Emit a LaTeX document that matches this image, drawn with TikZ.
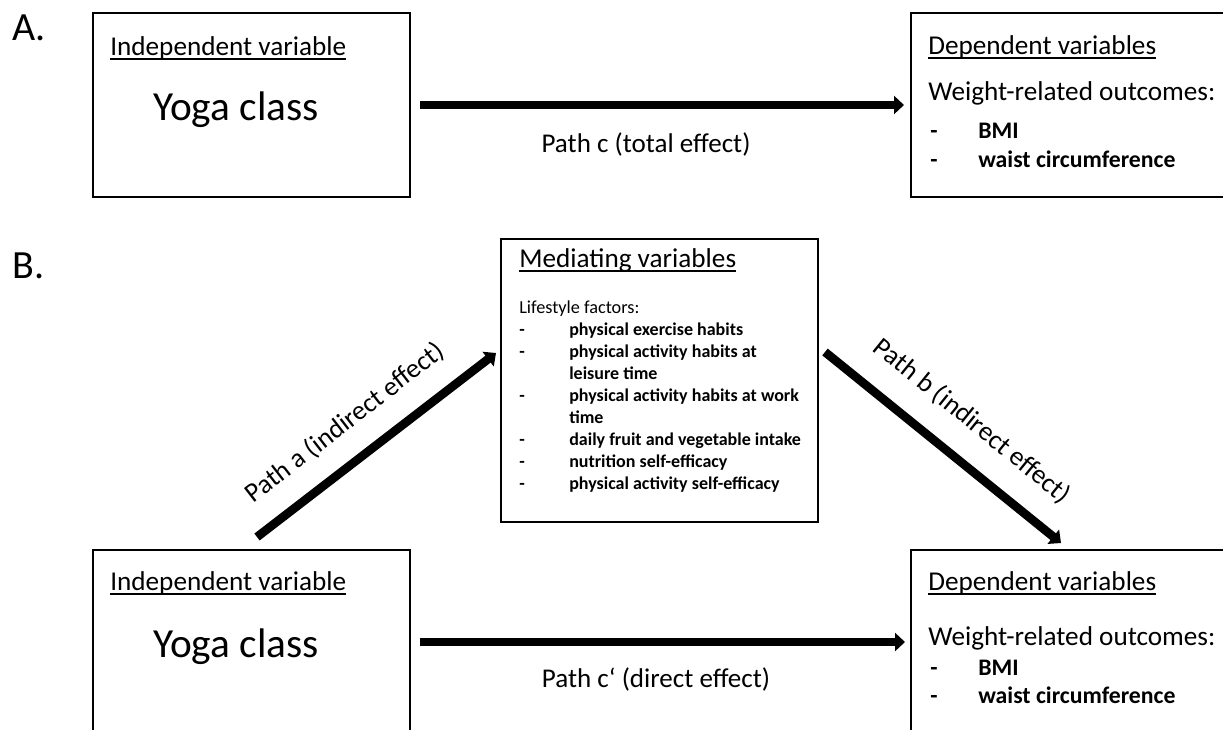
\documentclass[tikz,border=0pt]{standalone}
\usepackage{fontspec}
\setmainfont{Carlito}
\usetikzlibrary{arrows.meta}
\newcommand\fsz[1]{\fontsize{#1}{#1}\selectfont}
\newcommand\ulx[1]{\setbox0\hbox{#1}\rlap{\rule[-3.4pt]{\wd0}{1.4pt}}\box0}
\begin{document}
\begin{tikzpicture}[x=0.75pt,y=-0.75pt,
  box/.style={draw, line width=1.5pt, inner sep=0pt, outer sep=0pt},
  txt/.style={inner sep=0pt, anchor=base west},
  head/.style={txt, font=\fsz{20.4pt}},
  big/.style={txt, font=\fsz{31pt}, anchor=base},
  wro/.style={txt, font=\fsz{20.4pt}},
  item/.style={txt, font=\fsz{17.8pt}\bfseries},
  litem/.style={txt, font=\fsz{13.5pt}\bfseries},
  lab/.style={inner sep=0pt, font=\fsz{20.3pt}},
  panel/.style={txt, font=\fsz{30pt}},
  arr/.style={line width=6pt, -{Triangle[length=7.5pt,width=13.5pt]}}
]
\clip (0,0) rectangle (1223,729);
\useasboundingbox (0,0) rectangle (1223,729);

% ---------- Panel A ----------
\node[panel] (lA) at (12,40) {A.};
\node[box, minimum width=317*0.75pt, minimum height=184*0.75pt] (ivA) at (251.5,105) {};
\node[box, minimum width=324*0.75pt, minimum height=184*0.75pt] (dvA) at (1073,105) {};
\node[head] (ivAh) at (110,55) {\ulx{Independent variable}};
\node[big] (ivAy) at (236,120) {Yoga class};
\node[head] (dvAh) at (928,54) {\ulx{Dependent variables}};
\node[wro] (dvAw) at (928,100) {Weight-related outcomes:};
\node[item] (dvAd1) at (930,138) {-};
\node[item] (dvAb) at (978,138) {BMI};
\node[item] (dvAd2) at (930,167) {-};
\node[item] (dvAc) at (978,167) {waist circumference};
\draw[arr, shorten <=10*0.75pt, shorten >=7*0.75pt] (ivA) -- (dvA);
\node[lab, anchor=base] (pc) at (646,152) {Path c (total effect)};

% ---------- Panel B ----------
\node[panel] (lB) at (12,278) {B.};
\node[box, minimum width=317*0.75pt, minimum height=283*0.75pt] (med) at (659.5,380.5) {};
\node[head] (medh) at (519,267) {\ulx{Mediating variables}};
\node[txt, font=\fsz{13.7pt}] (lf) at (519,313) {Lifestyle factors:};
\foreach \i in {1,2,4,6,7,8}{
  \node[litem] (md\i) at (519,{313+22*\i}) {-};
}
\node[litem] (m1) at (569,335) {physical exercise habits};
\node[litem] (m2) at (569,357) {physical activity habits at};
\node[litem] (m3) at (569,379) {leisure time};
\node[litem] (m4) at (569,401) {physical activity habits at work};
\node[litem] (m5) at (569,423) {time};
\node[litem] (m6) at (569,445) {daily fruit and vegetable intake};
\node[litem] (m7) at (569,467) {nutrition self-efficacy};
\node[litem] (m8) at (569,489) {physical activity self-efficacy};

\node[box, minimum width=317*0.75pt, minimum height=184*0.75pt] (ivB) at (251.5,642) {};
\node[box, minimum width=324*0.75pt, minimum height=184*0.75pt] (dvB) at (1073,642) {};
\node[head] (ivBh) at (110,590) {\ulx{Independent variable}};
\node[big] (ivBy) at (236,657) {Yoga class};
\node[head] (dvBh) at (928,590) {\ulx{Dependent variables}};
\node[wro] (dvBw) at (928,645) {Weight-related outcomes:};
\node[item] (dvBd1) at (930,675) {-};
\node[item] (dvBb) at (978,675) {BMI};
\node[item] (dvBd2) at (930,703) {-};
\node[item] (dvBc) at (978,703) {waist circumference};

\draw[arr, shorten <=10*0.75pt, shorten >=6*0.75pt] (ivB) -- (dvB);
\node[lab, anchor=base] (pcp) at (656,687) {Path c\textquoteleft\ (direct effect)};

\coordinate (a0) at (257,537);
\coordinate (a1) at (496,353);
\coordinate (b0) at (825,352);
\coordinate (b1) at (1061,543);
\draw[arr, line width=6.5pt] (a0) -- (a1);
\draw[arr, line width=6.5pt] (b0) -- (b1);
\node[lab, rotate=37.7] (pa) at (345,423) {Path a (indirect effect)};
\node[lab, rotate=-39] (pb) at (972,421) {Path b (indirect effect)};
\end{tikzpicture}
\end{document}
